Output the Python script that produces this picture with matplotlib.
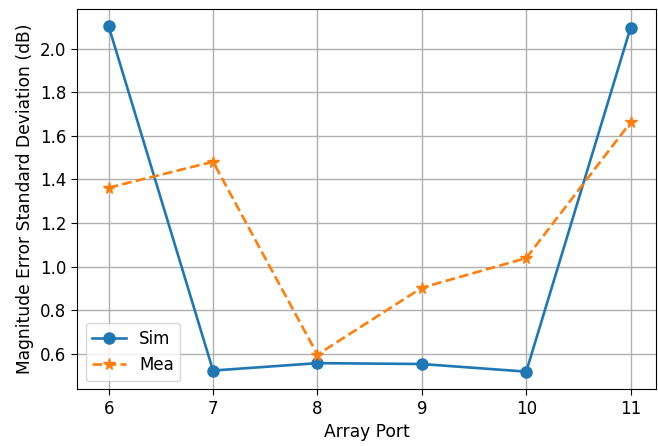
import matplotlib
matplotlib.use("Agg")
import matplotlib.pyplot as plt

# Dados
portas = [6, 7, 8, 9, 10, 11]
sim = [2.103, 0.523, 0.557, 0.553, 0.518, 2.097]
mea = [1.362, 1.481, 0.596, 0.903, 1.039, 1.662]

plt.rcParams['font.size'] = 12
plt.rcParams['axes.labelsize'] = 12.3
plt.rcParams['lines.linewidth'] = 1.9
plt.rcParams['grid.linewidth'] = 1.0
plt.rcParams['xtick.major.size'] = 4.4
plt.rcParams['ytick.major.size'] = 4.4

fig = plt.figure(figsize=(6.58, 4.46), dpi=100)
ax = fig.add_axes([0.1175, 0.128, 0.879, 0.852])

ax.plot(portas, sim, marker='o', markersize=8, label='Sim')
ax.plot(portas, mea, marker='*', markersize=8.5, linestyle='--', label='Mea')

ax.set_xlabel("Array Port")
ax.set_ylabel("Magnitude Error Standard Deviation (dB)")
ax.set_xlim(5.7, 11.24)
ax.grid(True)
ax.legend(loc='lower left')

fig.savefig("out.png", dpi=100)
